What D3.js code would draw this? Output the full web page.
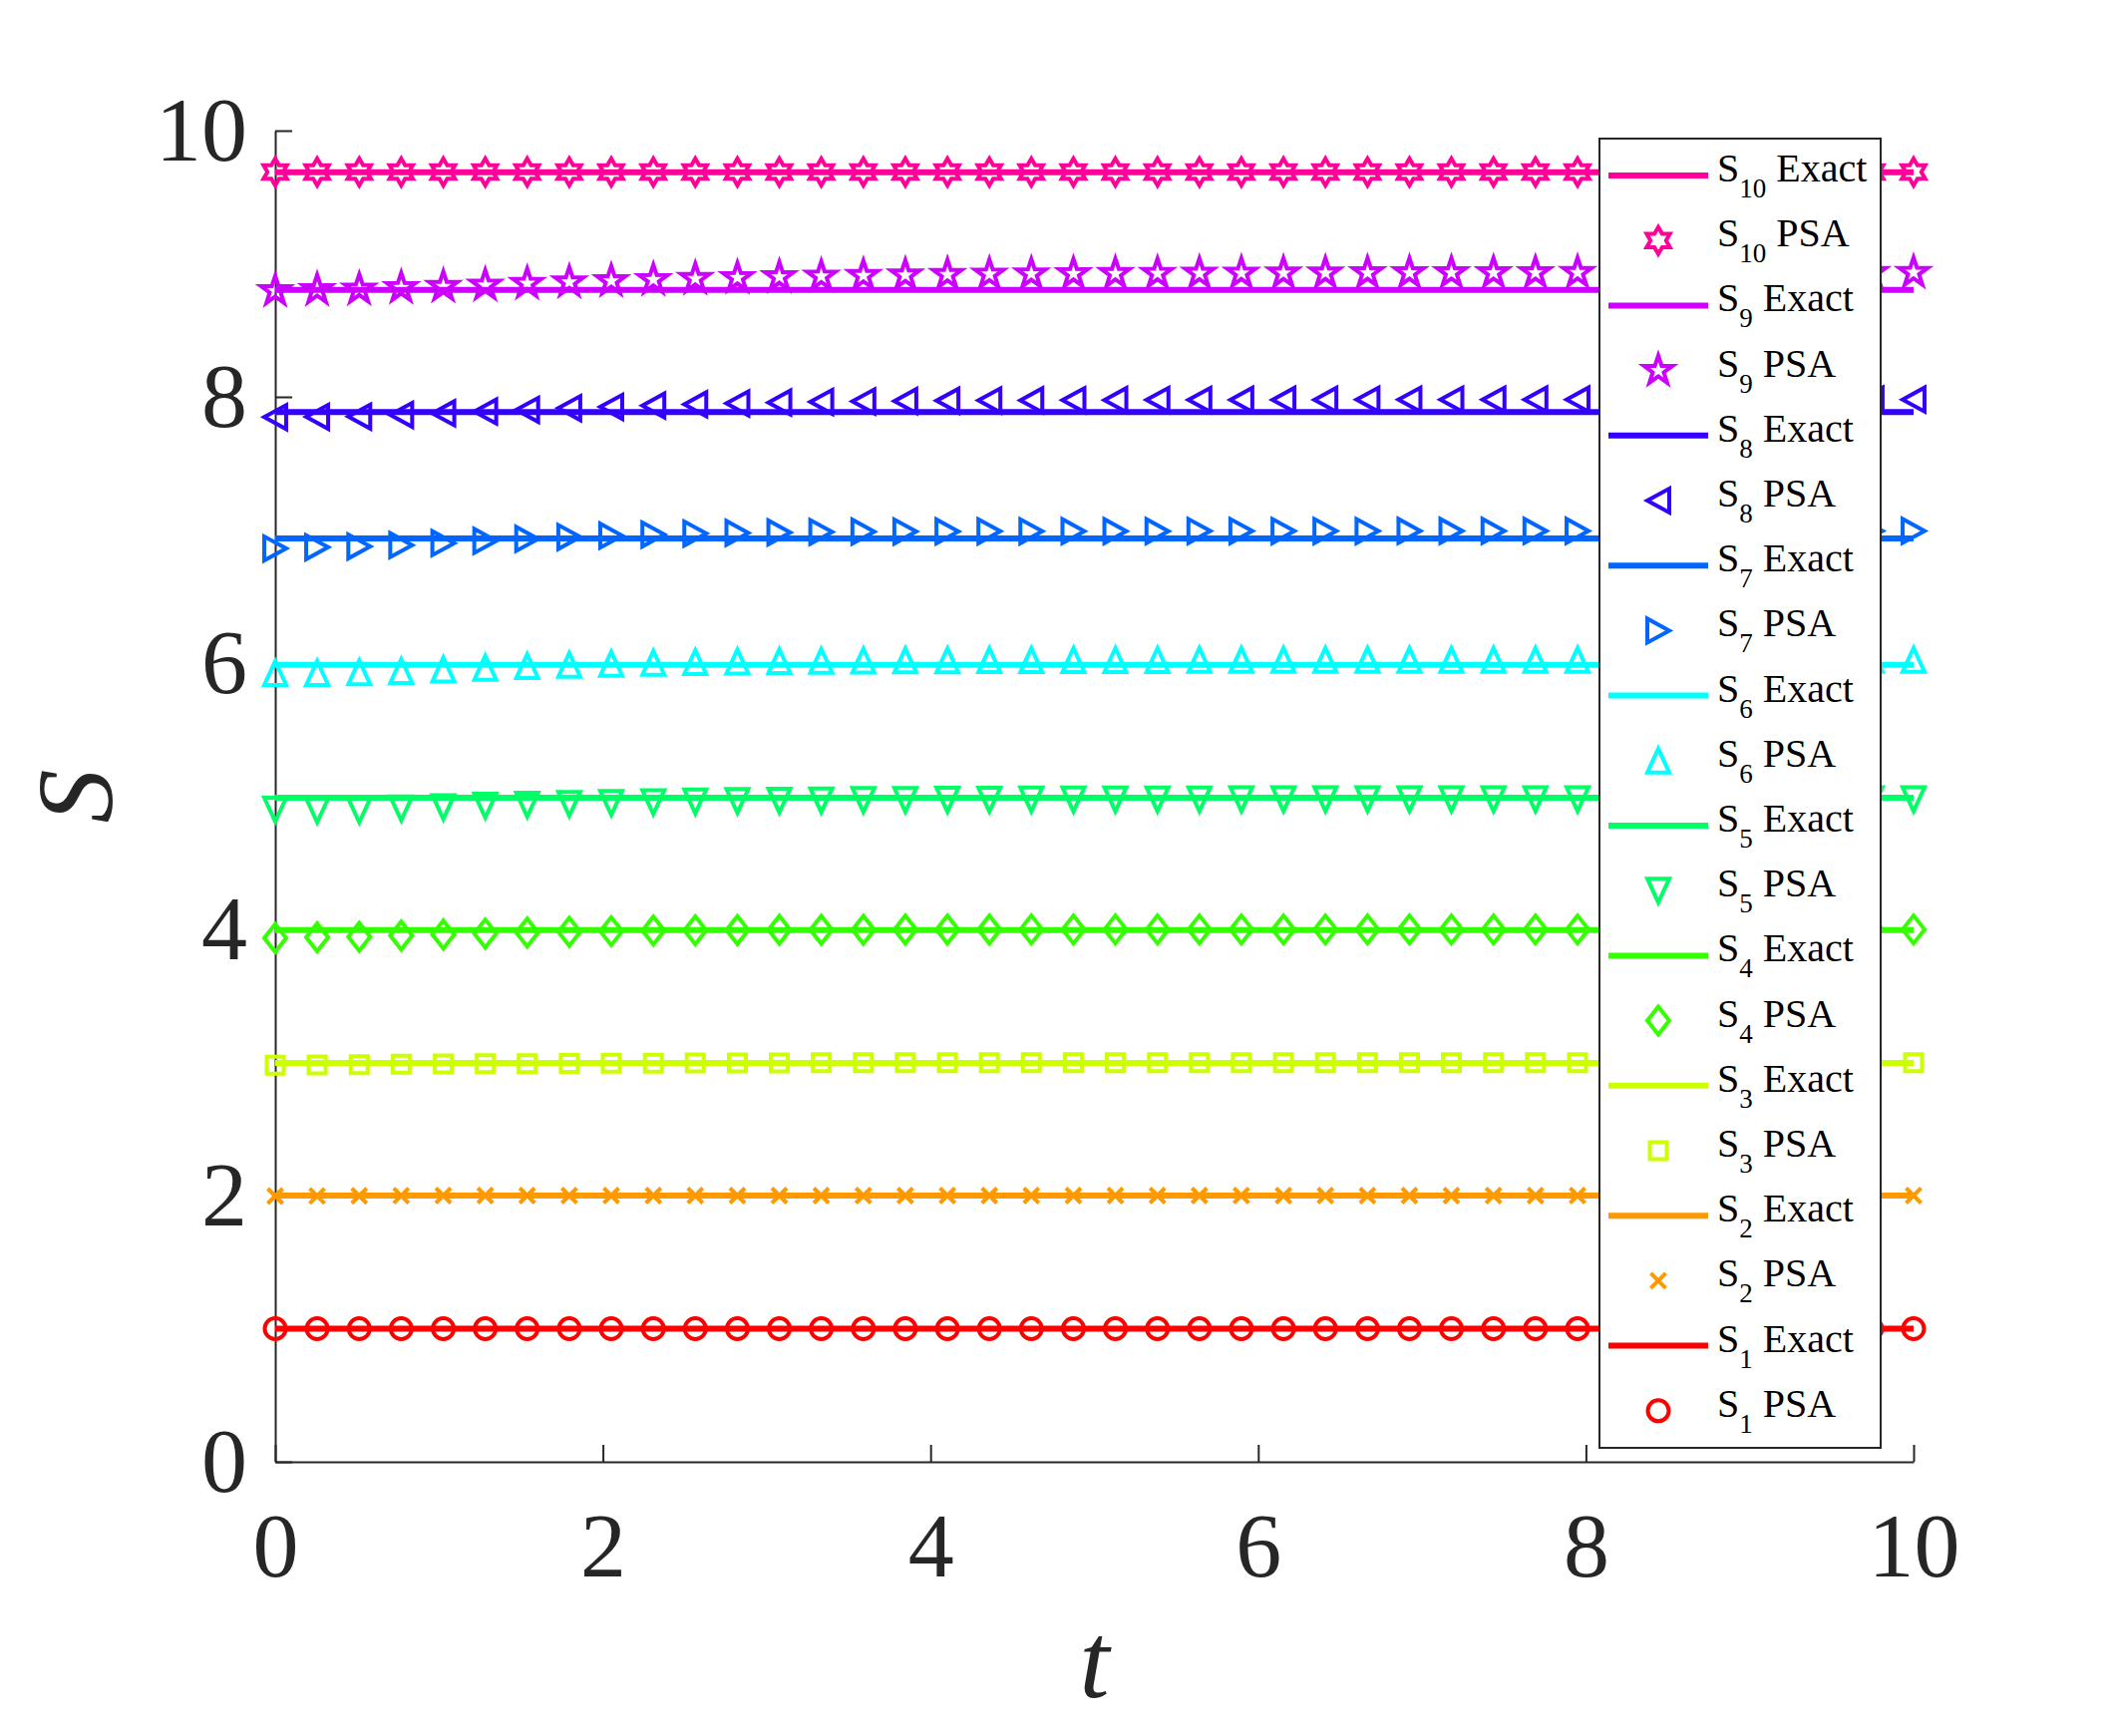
<!DOCTYPE html>
<html>
<head>
<meta charset="utf-8">
<script src="https://cdn.jsdelivr.net/npm/d3@7"></script>
<style>
body { margin: 0; background: #fff; }
text { font-family: "Liberation Serif", "DejaVu Serif", serif; }
</style>
</head>
<body>
<div id="chart"></div>
<script>
// time samples (40 points from 0 to 10)
var tValues = [0, 0.256, 0.513, 0.769, 1.026, 1.282, 1.538, 1.795, 2.051, 2.308,
               2.564, 2.821, 3.077, 3.333, 3.590, 3.846, 4.103, 4.359, 4.615, 4.872,
               5.128, 5.385, 5.641, 5.897, 6.154, 6.410, 6.667, 6.923, 7.179, 7.436,
               7.692, 7.949, 8.205, 8.462, 8.718, 8.974, 9.231, 9.487, 9.744, 10];

var seriesIds   = [1, 2, 3, 4, 5, 6, 7, 8, 9, 10];
var exactValues = [1.000, 2.000, 2.996, 3.995, 4.989, 5.987, 6.936, 7.885, 8.804, 9.688];

var psaS1  = [1.000, 1.000, 1.000, 1.000, 1.000, 1.000, 1.000, 1.000, 1.000, 1.000,
              1.000, 1.000, 1.000, 1.000, 1.000, 1.000, 1.000, 1.000, 1.000, 1.000,
              1.000, 1.000, 1.000, 1.000, 1.000, 1.000, 1.000, 1.000, 1.000, 1.000,
              1.000, 1.000, 1.000, 1.000, 1.000, 1.000, 1.000, 1.000, 1.000, 1.000];
var psaS2  = [1.996, 1.997, 1.998, 1.999, 2.000, 2.000, 2.000, 2.000, 2.000, 2.000,
              2.000, 2.000, 2.000, 2.000, 2.000, 2.000, 2.000, 2.000, 2.000, 2.000,
              2.000, 2.000, 2.000, 2.000, 2.000, 2.000, 2.000, 2.000, 2.000, 2.000,
              2.000, 2.000, 2.000, 2.000, 2.000, 2.000, 2.000, 2.000, 2.000, 2.000];
var psaS3  = [2.979, 2.982, 2.984, 2.986, 2.988, 2.990, 2.991, 2.993, 2.994, 2.995,
              2.996, 2.997, 2.997, 2.998, 2.998, 2.998, 2.999, 2.999, 2.999, 2.999,
              2.999, 2.999, 2.999, 2.999, 2.999, 2.999, 2.999, 2.999, 2.999, 2.999,
              2.999, 2.999, 2.999, 2.999, 2.999, 2.999, 2.999, 2.999, 2.999, 2.999];
var psaS4  = [3.934, 3.940, 3.944, 3.953, 3.961, 3.969, 3.975, 3.981, 3.986, 3.990,
              3.993, 3.995, 3.996, 3.997, 3.997, 3.998, 3.998, 3.998, 3.999, 3.999,
              3.999, 3.999, 3.999, 3.999, 3.999, 3.999, 3.999, 3.999, 3.999, 3.999,
              3.999, 3.999, 3.999, 3.999, 3.999, 3.999, 3.999, 3.999, 3.999, 3.999];
var psaS5  = [4.899, 4.893, 4.893, 4.908, 4.918, 4.929, 4.936, 4.942, 4.949, 4.955,
              4.960, 4.964, 4.967, 4.969, 4.971, 4.972, 4.973, 4.974, 4.975, 4.975,
              4.976, 4.976, 4.976, 4.977, 4.977, 4.977, 4.977, 4.977, 4.977, 4.977,
              4.977, 4.977, 4.977, 4.977, 4.977, 4.977, 4.977, 4.977, 4.977, 4.977];
var psaS6  = [5.925, 5.926, 5.930, 5.940, 5.952, 5.965, 5.977, 5.987, 5.995, 6.002,
              6.008, 6.012, 6.015, 6.017, 6.019, 6.020, 6.021, 6.022, 6.022, 6.023,
              6.023, 6.023, 6.024, 6.024, 6.024, 6.024, 6.024, 6.024, 6.024, 6.024,
              6.024, 6.024, 6.024, 6.024, 6.024, 6.024, 6.024, 6.024, 6.024, 6.024];
var psaS7  = [6.861, 6.870, 6.876, 6.886, 6.901, 6.918, 6.933, 6.947, 6.957, 6.966,
              6.973, 6.978, 6.982, 6.985, 6.987, 6.988, 6.989, 6.990, 6.990, 6.991,
              6.991, 6.991, 6.992, 6.992, 6.992, 6.992, 6.992, 6.993, 6.993, 6.993,
              6.993, 6.993, 6.993, 6.993, 6.993, 6.993, 6.993, 6.993, 6.993, 6.993];
var psaS8  = [7.848, 7.850, 7.852, 7.865, 7.877, 7.890, 7.902, 7.915, 7.925, 7.935,
              7.944, 7.951, 7.957, 7.962, 7.966, 7.969, 7.971, 7.973, 7.974, 7.975,
              7.976, 7.977, 7.977, 7.978, 7.978, 7.978, 7.979, 7.979, 7.979, 7.979,
              7.980, 7.980, 7.980, 7.980, 7.980, 7.980, 7.980, 7.980, 7.980, 7.980];
var psaS9  = [8.797, 8.804, 8.809, 8.820, 8.829, 8.839, 8.852, 8.862, 8.871, 8.880,
              8.888, 8.895, 8.901, 8.906, 8.911, 8.915, 8.918, 8.921, 8.923, 8.925,
              8.926, 8.927, 8.928, 8.929, 8.930, 8.930, 8.931, 8.931, 8.932, 8.932,
              8.932, 8.933, 8.933, 8.933, 8.933, 8.934, 8.934, 8.934, 8.934, 8.934];
var psaS10 = [9.690, 9.690, 9.690, 9.690, 9.690, 9.690, 9.690, 9.690, 9.690, 9.690,
              9.690, 9.690, 9.690, 9.690, 9.690, 9.690, 9.690, 9.690, 9.690, 9.690,
              9.690, 9.690, 9.690, 9.690, 9.690, 9.690, 9.690, 9.690, 9.690, 9.690,
              9.690, 9.690, 9.690, 9.690, 9.690, 9.690, 9.690, 9.690, 9.690, 9.690];
var psaValues = [psaS1, psaS2, psaS3, psaS4, psaS5, psaS6, psaS7, psaS8, psaS9, psaS10];

var xTicks = [0, 2, 4, 6, 8, 10];
var yTicks = [0, 2, 4, 6, 8, 10];

var colors  = ['#FF0000', '#FF9900', '#CCFF00', '#33FF00', '#00FF66',
               '#00FFFF', '#0066FF', '#3300FF', '#CC00FF', '#FF0099'];
var markers = ['circle', 'x', 'square', 'diamond', 'down',
               'up', 'right', 'left', 'pentagram', 'hexagram'];

// Create SVG Element
var chart_width  = 2122;
var chart_height = 1741;
var axis_color   = '#262626';
var marker_width = 4;

var svg = d3.select('#chart')
    .append('svg')
    .attr('width', chart_width)
    .attr('height', chart_height);

var xScale = d3.scaleLinear().domain([0, 10]).range([276, 1919]);
var yScale = d3.scaleLinear().domain([0, 10]).range([1466, 131]);

// marker shapes, centred on 0,0
function markerPath(type){
    var p = d3.path();
    var i, a, r;
    switch(type){
        case 'circle':
            p.arc(0, 0, 10.5, 0, 2 * Math.PI);
            break;
        case 'x':
            p.moveTo(-7.5, -7.5); p.lineTo(7.5, 7.5);
            p.moveTo(7.5, -7.5);  p.lineTo(-7.5, 7.5);
            break;
        case 'square':
            p.rect(-8.5, -8.5, 17, 17);
            break;
        case 'diamond':
            p.moveTo(0, -14); p.lineTo(11, 0); p.lineTo(0, 14); p.lineTo(-11, 0); p.closePath();
            break;
        case 'up':
            p.moveTo(0, -12); p.lineTo(11, 12); p.lineTo(-11, 12); p.closePath();
            break;
        case 'down':
            p.moveTo(0, 12); p.lineTo(11, -12); p.lineTo(-11, -12); p.closePath();
            break;
        case 'right':
            p.moveTo(11, 0); p.lineTo(-11, -12); p.lineTo(-11, 12); p.closePath();
            break;
        case 'left':
            p.moveTo(-11, 0); p.lineTo(11, -12); p.lineTo(11, 12); p.closePath();
            break;
        case 'pentagram':
            for( i = 0; i < 10; i++ ){
                a = -Math.PI / 2 + i * Math.PI / 5;
                r = i % 2 === 0 ? 15 : 5.8;
                if( i === 0 ) p.moveTo(r * Math.cos(a), r * Math.sin(a));
                else p.lineTo(r * Math.cos(a), r * Math.sin(a));
            }
            p.closePath();
            break;
        case 'hexagram':
            for( i = 0; i < 12; i++ ){
                a = -Math.PI / 2 + i * Math.PI / 6;
                r = i % 2 === 0 ? 13.5 : 7.8;
                if( i === 0 ) p.moveTo(r * Math.cos(a), r * Math.sin(a));
                else p.lineTo(r * Math.cos(a), r * Math.sin(a));
            }
            p.closePath();
            break;
    }
    return p.toString();
}

// Axes
var xAxis = d3.axisBottom(xScale)
    .tickValues(xTicks)
    .tickSizeInner(-17)
    .tickSizeOuter(0)
    .tickPadding(50);

var yAxis = d3.axisLeft(yScale)
    .tickValues(yTicks)
    .tickSizeInner(-17)
    .tickSizeOuter(0)
    .tickPadding(28);

var gx = svg.append('g')
    .attr('transform', 'translate(0,' + yScale(0) + ')')
    .call(xAxis);

var gy = svg.append('g')
    .attr('transform', 'translate(' + xScale(0) + ',0)')
    .call(yAxis);

[gx, gy].forEach(function( g ){
    g.select('.domain').attr('stroke', axis_color).attr('stroke-width', 2);
    g.selectAll('.tick line').attr('stroke', axis_color).attr('stroke-width', 2);
    g.selectAll('.tick text')
        .attr('fill', axis_color)
        .attr('font-size', 92)
        .attr('font-family', '"Liberation Serif", serif');
});

// Axis labels
svg.append('text')
    .attr('x', (xScale(0) + xScale(10)) / 2)
    .attr('y', 1702)
    .attr('text-anchor', 'middle')
    .attr('font-size', 108)
    .attr('font-style', 'italic')
    .attr('fill', axis_color)
    .text('t');

svg.append('text')
    .attr('transform', 'translate(112,' + (yScale(0) + yScale(10)) / 2 + ') rotate(-90)')
    .attr('text-anchor', 'middle')
    .attr('font-size', 108)
    .attr('font-style', 'italic')
    .attr('fill', axis_color)
    .text('S');

// Series: S10 first, S1 last (drawn on top)
var line = d3.line()
    .x(function( d ){ return xScale(d[0]); })
    .y(function( d ){ return yScale(d[1]); });

for( var k = 9; k >= 0; k-- ){
    var exactPts = [[tValues[0], exactValues[k]], [tValues[tValues.length - 1], exactValues[k]]];
    svg.append('path')
        .attr('d', line(exactPts))
        .attr('fill', 'none')
        .attr('stroke', colors[k])
        .attr('stroke-width', 6);

    svg.append('g')
        .selectAll('path')
        .data(psaValues[k])
        .enter()
        .append('path')
        .attr('d', markerPath(markers[k]))
        .attr('transform', function( d, i ){
            return 'translate(' + xScale(tValues[i]) + ',' + yScale(d) + ')';
        })
        .attr('fill', 'none')
        .attr('stroke', colors[k])
        .attr('stroke-width', marker_width)
        .attr('stroke-linejoin', 'miter')
        .attr('stroke-miterlimit', 4);
}

// Legend
var legend_x   = 1604;
var legend_y   = 139;
var legend_w   = 282;
var legend_h   = 1313;
var row_start  = 176;
var row_step   = 65.2;

var legend = svg.append('g');
legend.append('rect')
    .attr('x', legend_x)
    .attr('y', legend_y)
    .attr('width', legend_w)
    .attr('height', legend_h)
    .attr('fill', '#fff')
    .attr('stroke', axis_color)
    .attr('stroke-width', 2);

var rows = [];
for( var j = 9; j >= 0; j-- ){
    rows.push({ idx: j, kind: 'Exact' });
    rows.push({ idx: j, kind: 'PSA' });
}

rows.forEach(function( r, i ){
    var ry = row_start + i * row_step;
    if( r.kind === 'Exact' ){
        legend.append('line')
            .attr('x1', 1613).attr('x2', 1713)
            .attr('y1', ry).attr('y2', ry)
            .attr('stroke', colors[r.idx])
            .attr('stroke-width', 6);
    } else {
        legend.append('path')
            .attr('d', markerPath(markers[r.idx]))
            .attr('transform', 'translate(1663,' + ry + ')')
            .attr('fill', 'none')
            .attr('stroke', colors[r.idx])
            .attr('stroke-width', marker_width)
            .attr('stroke-miterlimit', 4);
    }
    var txt = legend.append('text')
        .attr('x', 1722)
        .attr('y', ry + 6)
        .attr('font-size', 40)
        .attr('fill', '#000');
    txt.append('tspan').text('S');
    txt.append('tspan')
        .attr('font-size', 27)
        .attr('dy', 16)
        .text(seriesIds[r.idx]);
    txt.append('tspan')
        .attr('dy', -16)
        .text('\u00a0' + r.kind);
});
</script>
</body>
</html>
